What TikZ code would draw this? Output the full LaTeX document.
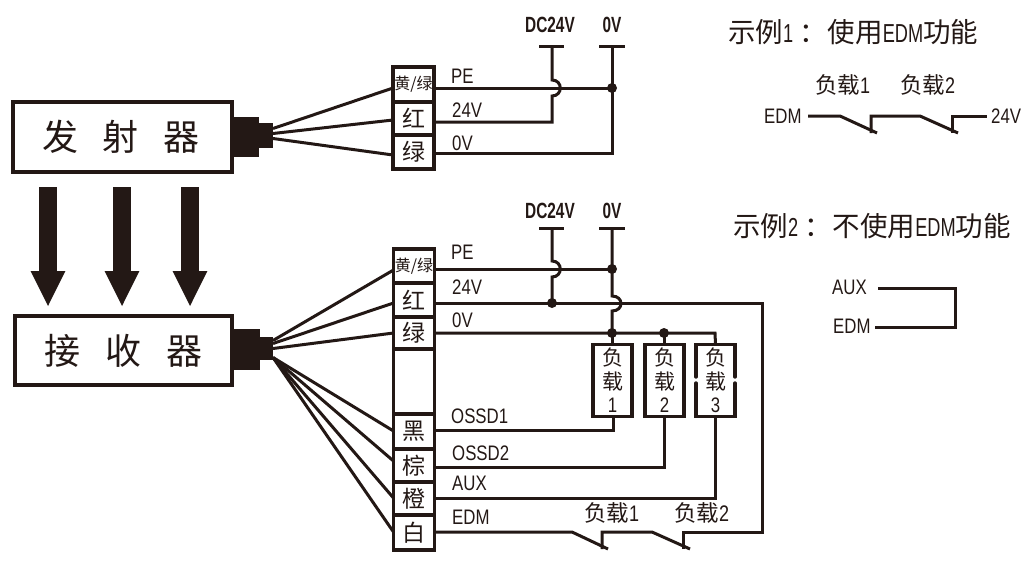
\documentclass[tikz,border=0pt]{standalone}
\usepackage{fontspec}
\usetikzlibrary{arrows.meta}
\newfontfamily\cjk{Noto Sans CJK SC}
\newfontfamily\lat[FakeStretch=0.8]{Liberation Sans}
\newfontfamily\latn[FakeStretch=0.7]{Liberation Sans}
\newfontfamily\latb[FakeStretch=0.7]{Liberation Sans Bold}
\definecolor{ink}{HTML}{231815}
\tikzset{
  wire/.style={draw=ink,line width=3pt,line join=miter},
  boxline/.style={draw=ink,line width=3.4pt,fill=white,inner sep=0pt,outer sep=0pt},
  cell/.style={boxline,text=ink,minimum width=41pt,font=\cjk\fontsize{23}{23}\selectfont},
  plug/.style={fill=ink,draw=none,inner sep=0pt,outer sep=0pt},
  jdot/.style={circle,fill=ink,inner sep=0pt,minimum size=10pt},
  lbl/.style={anchor=west,inner sep=0pt,text=ink,font=\lat\fontsize{21}{21}\selectfont},
  rail/.style={inner sep=0pt,text=ink,font=\latb\fontsize{22}{22}\selectfont},
  cjklbl/.style={inner sep=0pt,text=ink,anchor=west,font=\cjk\fontsize{22.5}{22.5}\selectfont},
  title/.style={inner sep=0pt,text=ink,anchor=west,font=\cjk\fontsize{27.5}{27.5}\selectfont},
  device/.style={boxline,text=ink,font=\cjk\fontsize{36}{36}\selectfont},
  beam/.style={draw=ink,line width=18pt,-{Triangle[length=36pt,width=32pt]},shorten >=0pt},
  load/.style={boxline,minimum width=39pt,minimum height=72pt,text=ink,align=center,font=\cjk\fontsize{21}{23.5}\selectfont},
}
\newcommand{\yl}{\fontsize{16}{16}\selectfont 黄/绿}
\newcommand{\ttl}[1]{{\latn\fontsize{26}{26}\selectfont #1}}
\begin{document}
\begin{tikzpicture}[x=1pt,y=-1pt]
\useasboundingbox (0,0) rectangle (1032,565);
% devices
\node[device,minimum width=219pt,minimum height=70pt] (tx) at (122.5,137) {\hspace*{-3pt}发\hspace{25pt}射\hspace{25pt}器};
\node[device,minimum width=217pt,minimum height=69pt] (rx) at (123.5,350.5) {接\hspace{25pt}收\hspace{25pt}器};
\node[plug,minimum width=26pt,minimum height=40pt] (tp1) at (245.5,137) {};
\node[plug,minimum width=15pt,minimum height=25pt] (tp2) at (265.5,135.5) {};
\node[plug,minimum width=27pt,minimum height=41pt] (rp1) at (246.5,349.5) {};
\node[plug,minimum width=13pt,minimum height=23pt] (rp2) at (266.5,348.5) {};
% beams
\coordinate (b1s) at (48,187); \coordinate (b1e) at (48,307);
\coordinate (b2s) at (122,187); \coordinate (b2e) at (122,307);
\coordinate (b3s) at (190,187); \coordinate (b3e) at (190,307);
\draw[beam] (b1s) -- (b1e);
\draw[beam] (b2s) -- (b2e);
\draw[beam] (b3s) -- (b3e);
% junctions
\node[jdot] (jt) at (612,88) {};
\node[jdot] (jr1) at (612,269) {};
\node[jdot] (jr2) at (552,303) {};
\node[jdot] (jr3) at (612,333) {};
\node[jdot] (jr4) at (664,333) {};
% rails
\node[rail] (dc1) at (550,25) {DC24V};
\node[rail] (ov1) at (612,25) {0V};
\node[rail] (dc2) at (550,211) {DC24V};
\node[rail] (ov2) at (612,211) {0V};
\coordinate (dc1a) at (539,46); \coordinate (dc1b) at (564,46);
\coordinate (ov1a) at (599,46); \coordinate (ov1b) at (625,46);
\coordinate (dc2a) at (539,228); \coordinate (dc2b) at (564,228);
\coordinate (ov2a) at (599,228); \coordinate (ov2b) at (625,228);
\draw[wire] (dc1a) -- (dc1b); \draw[wire] (ov1a) -- (ov1b);
\draw[wire] (dc2a) -- (dc2b); \draw[wire] (ov2a) -- (ov2b);
% top terminal
\node[cell,minimum height=35pt] (tY) at (413.5,84.5) {\yl};
\node[cell,minimum height=33pt] (tR) at (413.5,118.5) {红};
\node[cell,minimum height=34pt] (tG) at (413.5,152) {绿};
\coordinate (t24) at (552,122); \coordinate (t0) at (612,153);
\draw[wire] (tY.east |- jt) -- (jt.center);
\draw[wire] (tR.east |- t24) -- (t24) -- (552,96) .. controls (563,96) and (563,80) .. (552,80) -- (552,46);
\draw[wire] (tG.east |- t0) -- (t0) -- (ov1a -| t0);
\foreach \n/\y/\o in {tY/88/7,tR/120/2,tG/155/-3}
  \draw[wire] ([yshift=\o pt]tp2.east) -- (\n.west |- 0,\y);
% top labels
\node[lbl] (lPE1) at (451,76) {PE};
\node[lbl] (l241) at (452,110) {24V};
\node[lbl] (l01) at (452,143) {0V};
% receiver terminal
\node[cell,minimum height=34pt] (rY) at (414,266) {\yl};
\node[cell,minimum height=34pt] (rR) at (414,300) {红};
\node[cell,minimum height=32pt] (rG) at (414,333) {绿};
\node[cell,minimum height=65pt] (rE) at (414,381.5) {};
\node[cell,minimum height=35pt] (rK) at (414,431.5) {黑};
\node[cell,minimum height=33pt] (rB) at (414,465.5) {棕};
\node[cell,minimum height=33pt] (rO) at (414,498.5) {橙};
\node[cell,minimum height=35pt] (rW) at (414,532.5) {白};
\foreach \n/\y/\o in {rY/270/8,rR/303/5,rG/333/0}
  \draw[wire] ([yshift=\o pt]rp2.east) -- (\n.west |- 0,\y);
\foreach \n/\y in {rK/431,rB/461,rO/498,rW/532}
  \draw[wire] ([yshift=-9pt]rp2.east) -- (\n.west |- 0,\y);
% loads
\node[load] (L1) at (612.5,380.5) {负\\载\\{\lat 1}};
\node[load] (L2) at (664.5,380.5) {负\\载\\{\lat 2}};
\node[load,draw=none,fill=none] (L3) at (715.5,380.5) {负\\载\\{\lat 3}};
\draw[wire,line width=3.4pt,line cap=round] (L3.west |- 0,377) -- (L3.north west) -- (L3.north east) -- (L3.east |- 0,377);
\draw[wire,line width=3.4pt,line cap=round] (L3.west |- 0,383) -- (L3.south west) -- (L3.south east) -- (L3.east |- 0,383);
% receiver wires
\draw[wire] (rY.east |- jr1) -- (jr1.center);
\coordinate (c24) at (762,303); \coordinate (cedm) at (762,532);
\draw[wire] (rR.east |- jr2) -- (jr2.center) -- (c24) -- (cedm) -- (683,532) -- (683,549);
\coordinate (jmpT) at (612,296); \coordinate (jmpB) at (612,311);
\draw[wire] (ov2a -| jr1) -- (jmpT) .. controls (624,296) and (624,311) .. (jmpB) -- (jr3.center);
\draw[wire] (rG.east |- jr3) -- (jr3.center) -- (jr4.center) -- (715,333) -- (L3.north);
\draw[wire] (jr3.center) -- (L1.north -| jr3);
\draw[wire] (jr4.center) -- (L2.north -| jr4);
\draw[wire] (dc2a -| jr2) -- (552,261) .. controls (563,261) and (563,277) .. (552,277) -- (jr2.center);
\coordinate (o1) at (613,430); \coordinate (o2) at (664,467); \coordinate (o3) at (715,498);
\draw[wire] (rK.east |- o1) -- (o1) -- (L1.south -| o1);
\draw[wire] (rB.east |- o2) -- (o2) -- (L2.south -| o2);
\draw[wire] (rO.east |- o3) -- (o3) -- (L3.south -| o3);
% receiver EDM contacts
\coordinate (s1) at (572,532); \coordinate (s1e) at (608,549);
\coordinate (s2) at (602,549); \coordinate (s3) at (602,532);
\coordinate (s4) at (652,532); \coordinate (s4e) at (690,549);
\draw[wire] (rW.east |- s1) -- (s1) -- (s1e);
\draw[wire] (s2) -- (s3) -- (s4) -- (s4e);
% receiver labels
\node[lbl] at (451,252) {PE};
\node[lbl] at (452,287) {24V};
\node[lbl] at (452,320) {0V};
\node[lbl] at (451,416) {OSSD1};
\node[lbl] at (452,453) {OSSD2};
\node[lbl] at (452,483) {AUX};
\node[lbl] at (452,517) {EDM};
\node[cjklbl] at (584,513) {负载{\lat 1}};
\node[cjklbl] at (674,513) {负载{\lat 2}};
% example 1
\node[title] at (728,32) {示例\ttl{1}\hspace{6pt}：\hspace{1pt}使用\ttl{EDM}功能};
\node[cjklbl] at (815,85) {负载{\lat 1}};
\node[cjklbl] at (900,85) {负载{\lat 2}};
\node[lbl] (e1e) at (764,116) {EDM};
\node[lbl] (e1v) at (991,116) {24V};
\coordinate (x1) at (808,116); \coordinate (x2) at (840,116); \coordinate (x3) at (877,133);
\coordinate (x4) at (871,133); \coordinate (x5) at (871,116); \coordinate (x6) at (920,116);
\coordinate (x7) at (958,133); \coordinate (x8) at (952,133); \coordinate (x9) at (952,116);
\coordinate (x10) at (987,116);
\draw[wire] (x1) -- (x2) -- (x3);
\draw[wire] (x4) -- (x5) -- (x6) -- (x7);
\draw[wire] (x8) -- (x9) -- (x10);
% example 2
\node[title] at (733,226) {示例\ttl{2}\hspace{6pt}：\hspace{1pt}不使用\ttl{EDM}功能};
\node[lbl] (e2a) at (832,287) {AUX};
\node[lbl] (e2e) at (833,326) {EDM};
\coordinate (y1) at (878,288); \coordinate (y2) at (955,288);
\coordinate (y3) at (955,327); \coordinate (y4) at (875,327);
\draw[wire] (y1) -- (y2) -- (y3) -- (y4);
\end{tikzpicture}
\end{document}
